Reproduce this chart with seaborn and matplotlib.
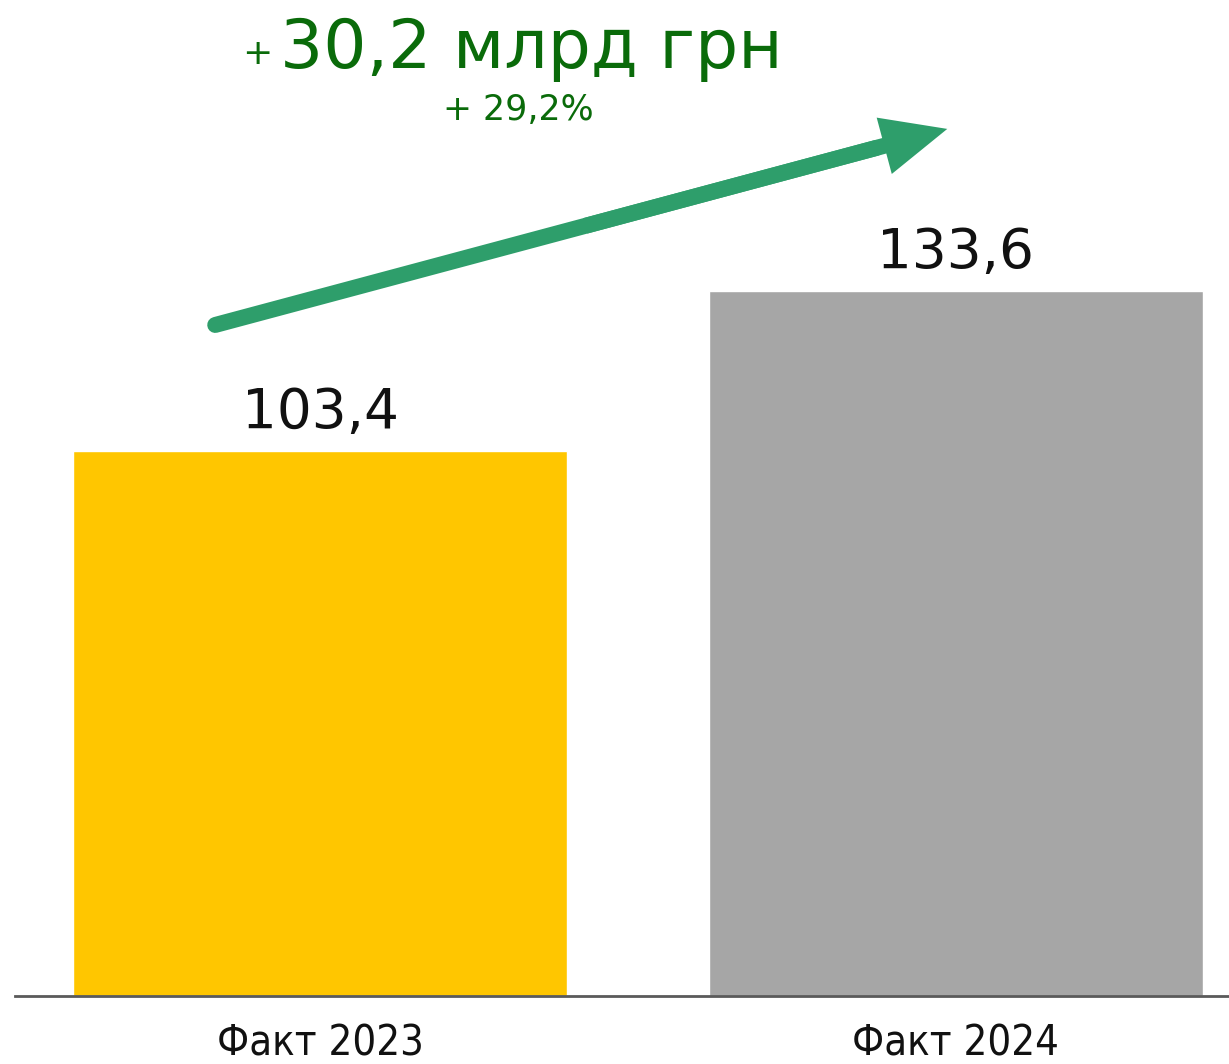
import matplotlib
matplotlib.use("Agg")
import matplotlib.pyplot as plt
import seaborn as sns
from matplotlib.patches import FancyArrowPatch

categories = ["Факт 2023", "Факт 2024"]
values = [103.4, 133.6]
bar_colors = ["#FFC600", "#A6A6A6"]
delta_text = "30,2 млрд грн"
pct_text = "+ 29,2%"

sns.set_style("white")
plt.rcParams["font.family"] = ["DejaVu Sans"]

W, H = 1229, 1064
fig = plt.figure(figsize=(W / 100, H / 100), dpi=100)
ax = fig.add_axes([15 / W, 68 / H, 1 - 15 / W, 996 / H])

sns.barplot(x=categories, y=values, hue=categories, palette=bar_colors,
            width=0.777, saturation=1, legend=False, ax=ax)

ax.set_xlim(-0.48, 1.43)
ax.set_ylim(0, 188.8)
ax.set_xlabel("")
ax.set_ylabel("")
ax.set_yticks([])
for s in ["top", "right", "left"]:
    ax.spines[s].set_visible(False)
ax.spines["bottom"].set_color("#5a5a5a")
ax.spines["bottom"].set_linewidth(2)
ax.tick_params(axis="x", length=0, pad=19)
for lbl in ax.get_xticklabels():
    lbl.set_fontsize(30)
    lbl.set_fontstretch("condensed")
    lbl.set_color("#111111")

# value labels
for i, v in enumerate(values):
    ax.text(i, v + 4.35, f"{v:.1f}".replace(".", ","), ha="center",
            va="baseline", fontsize=39.5, color="#111111")

# growth arrow
x0, y0 = -0.165, 127.2
x1, y1 = 0.991, 164.5
ax.plot([x0, x0 + (x1 - x0) * 0.9], [y0, y0 + (y1 - y0) * 0.9],
        color="#2E9E6B", lw=11.5, solid_capstyle="round")
arr = FancyArrowPatch((x0 + (x1 - x0) * 0.5, y0 + (y1 - y0) * 0.5), (x1, y1),
                      arrowstyle="simple,head_length=47,head_width=42,tail_width=11.5",
                      mutation_scale=1, color="#2E9E6B", lw=0)
ax.add_patch(arr)

# growth text
green = "#0A6B0A"
fig.text(242 / W, 1 - 64 / H, "+", fontsize=26, color=green, va="baseline")
fig.text(280 / W, 1 - 68 / H, delta_text, fontsize=49, color=green, va="baseline")
fig.text(443 / W, 1 - 120 / H, pct_text, fontsize=25, color=green, va="baseline")

fig.savefig("out.png", dpi=100)
